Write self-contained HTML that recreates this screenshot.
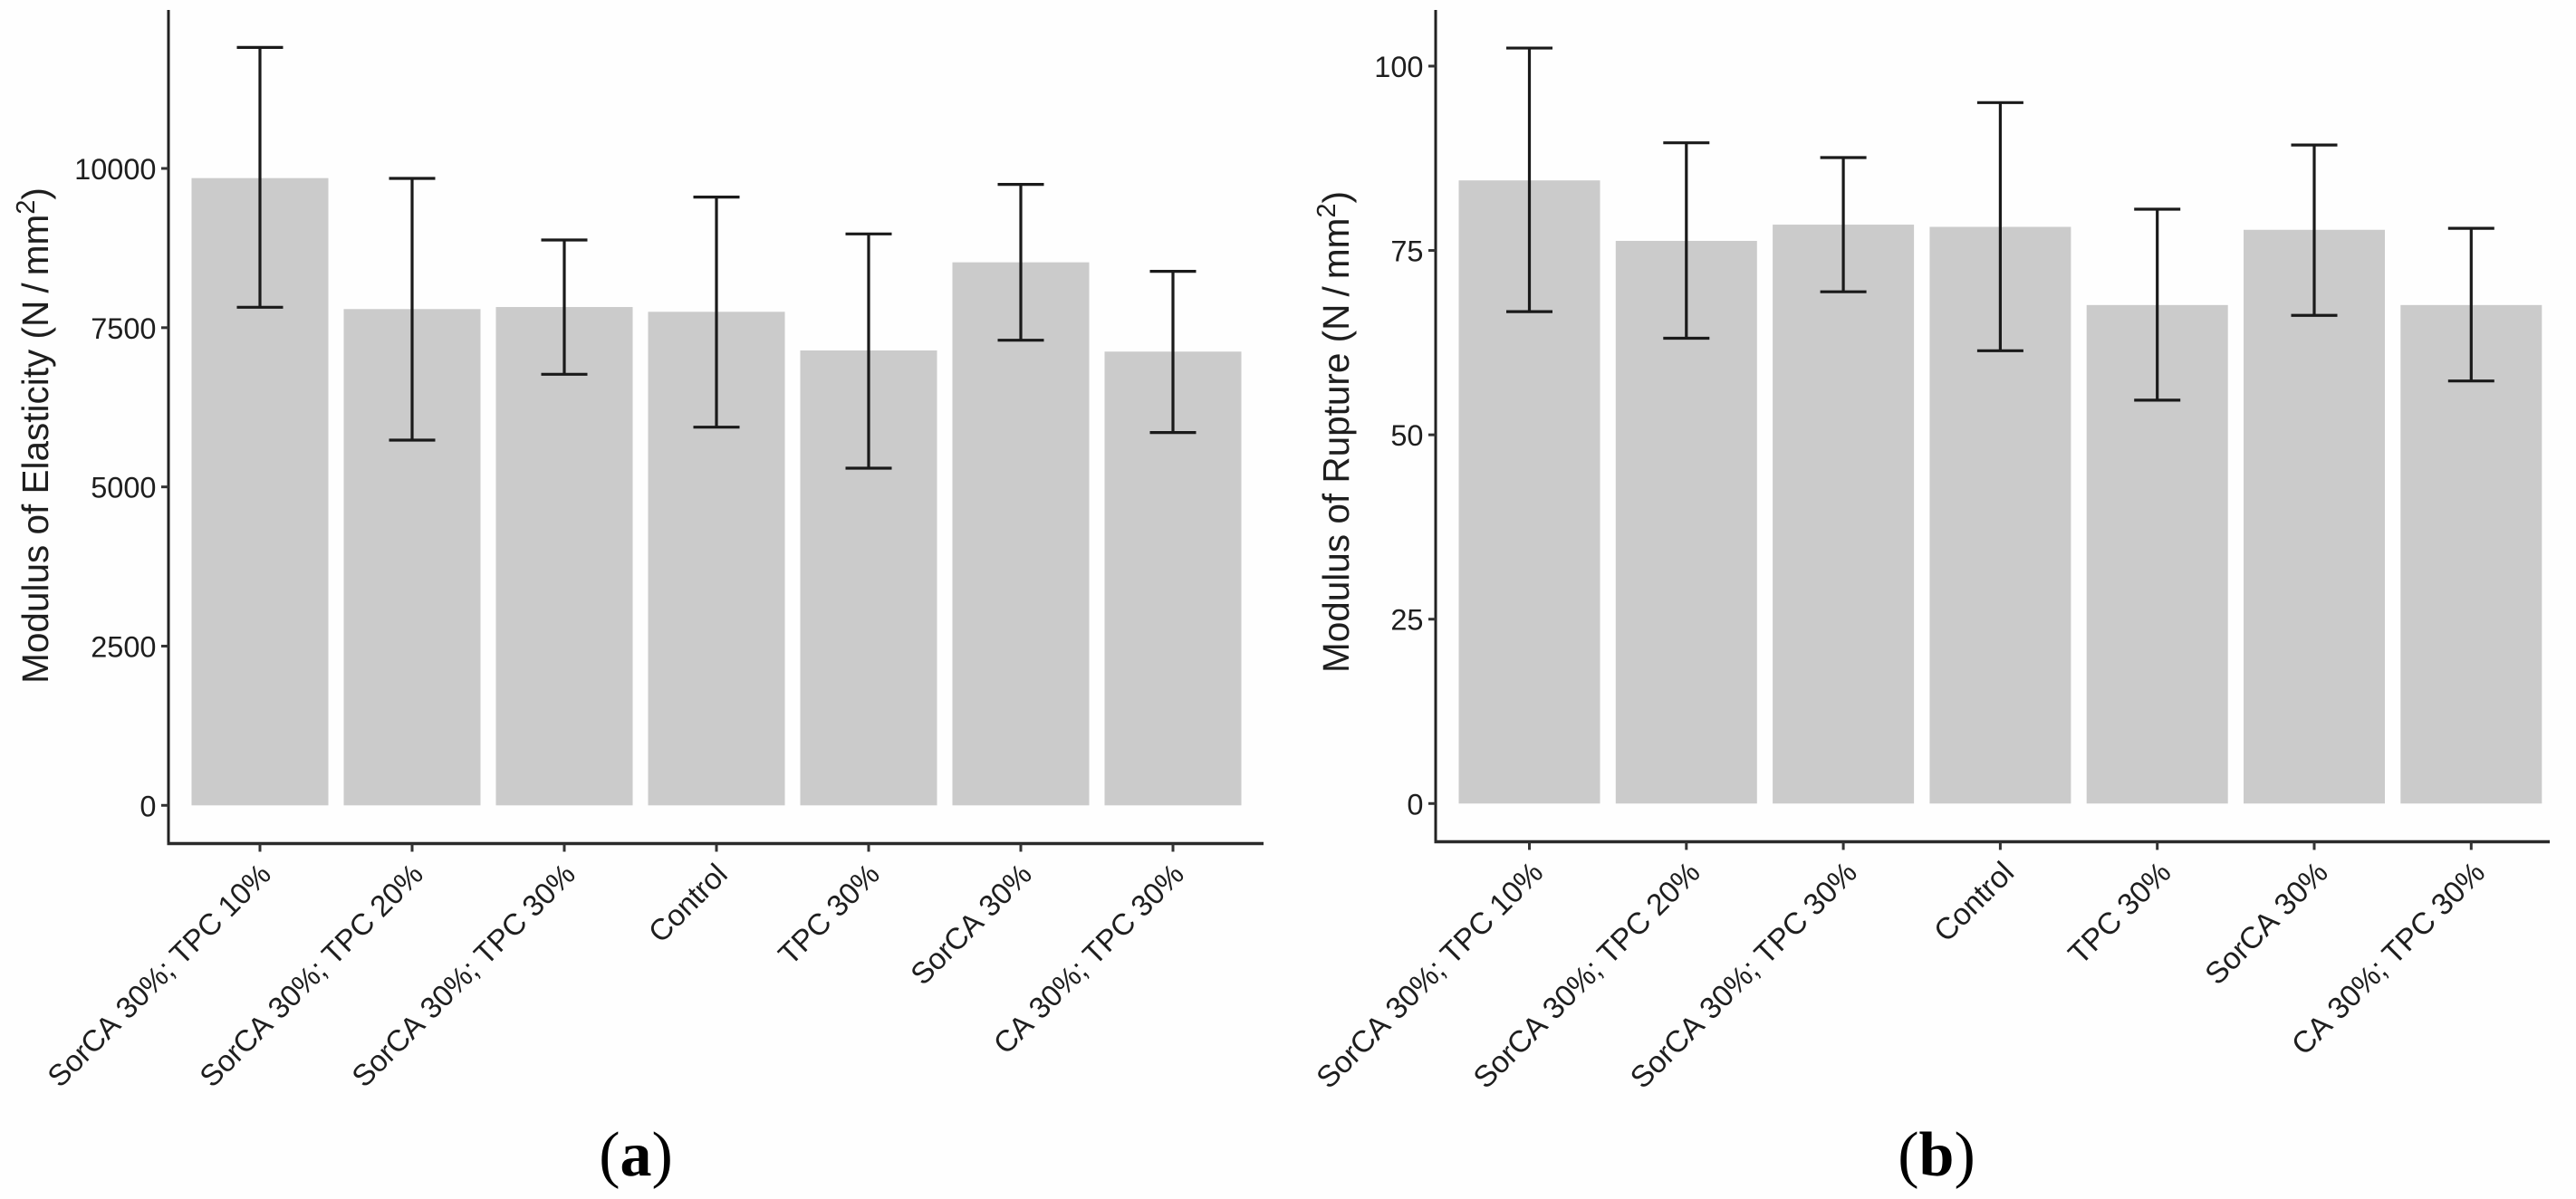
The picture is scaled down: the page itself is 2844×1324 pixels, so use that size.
<!DOCTYPE html>
<html lang="en">
<head>
<meta charset="utf-8">
<title>Modulus of Elasticity and Modulus of Rupture</title>
<style>
  html, body { margin: 0; padding: 0; background: #fefefe; }
  svg { display: block; }
  text { font-family: "Liberation Sans", Arial, sans-serif; fill: #1e1e1e; font-kerning: none; }
  .panel-tag, .panel-tag tspan { font-family: "Liberation Serif", serif; fill: #000; }
</style>
</head>
<body>
<svg id="figure" xmlns="http://www.w3.org/2000/svg" width="2844" height="1324" viewBox="0 0 2844 1324"></svg>
<script>
const categories = ["SorCA 30%; TPC 10%", "SorCA 30%; TPC 20%", "SorCA 30%; TPC 30%", "Control", "TPC 30%", "SorCA 30%", "CA 30%; TPC 30%"];

const elasticityMeans = [9848, 7792, 7824, 7749, 7142, 8526, 7124];
const elasticityUpper = [11900, 9844, 8877, 9550, 8972, 9749, 8384];
const elasticityLower = [7820, 5734, 6768, 5938, 5294, 7303, 5853];
const elasticityTicks = [0, 2500, 5000, 7500, 10000];

const ruptureMeans = [84.5, 76.3, 78.5, 78.2, 67.6, 77.8, 67.6];
const ruptureUpper = [102.45, 89.6, 87.6, 95.05, 80.6, 89.3, 78.0];
const ruptureLower = [66.7, 63.1, 69.4, 61.4, 54.7, 66.2, 57.3];
const ruptureTicks = [0, 25, 50, 75, 100];

const SVG_NS = "http://www.w3.org/2000/svg";
const figure = document.getElementById("figure");

function make(parent, tag, attrs, content) {
  const node = document.createElementNS(SVG_NS, tag);
  for (const key in attrs) node.setAttribute(key, attrs[key]);
  if (content !== undefined) node.textContent = content;
  parent.appendChild(node);
  return node;
}

function drawPanel(p) {
  const xScale = i => p.x0 + p.xStep * i;
  const yScale = v => p.yZero - v * p.yPerUnit;

  const g = make(figure, "g", {});
  
  

  p.means.forEach((m, i) => {
    const bar = make(g, "rect", {
      x: xScale(i) - p.barWidth / 2,
      y: yScale(m),
      width: p.barWidth,
      height: yScale(0) - yScale(m),
      fill: "#cbcbcb"
    });
    
    
  });

  p.means.forEach((m, i) => {
    const cx = xScale(i);
    const yHi = yScale(p.upper[i]);
    const yLo = yScale(p.lower[i]);
    const err = make(g, "path", {
      d: "M" + (cx - 25.5) + " " + yHi + "H" + (cx + 25.5) +
         "M" + cx + " " + yHi + "V" + yLo +
         "M" + (cx - 25.5) + " " + yLo + "H" + (cx + 25.5),
      fill: "none",
      stroke: "#1a1a1a",
      "stroke-width": 3.2
    });
    
    
  });

  const yAxis = make(g, "line", { x1: p.axisX, x2: p.axisX, y1: 11, y2: p.axisY + 1.5, stroke: "#222", "stroke-width": 3 });
  
  

  const xAxis = make(g, "line", { x1: p.axisX - 1.5, x2: p.axisRight, y1: p.axisY, y2: p.axisY, stroke: "#2a2a2a", "stroke-width": 3.5 });
  
  

  p.ticks.forEach(t => {
    const y = yScale(t);
    const tick = make(g, "line", { x1: p.axisX - 8, x2: p.axisX, y1: y, y2: y, stroke: "#333", "stroke-width": 3 });
    
    
    const label = make(g, "text", { x: p.axisX - 13.5, y: y + 12, "text-anchor": "end", "font-size": 32.5 }, String(t));
    
    
  });

  categories.forEach((c, i) => {
    const x = xScale(i);
    const tick = make(g, "line", { x1: x, x2: x, y1: p.axisY, y2: p.axisY + 9, stroke: "#333", "stroke-width": 3 });
    
    
    const lx = x + p.labelDx;
    const ly = p.axisY + 36;
    const label = make(g, "text", {
      x: lx, y: ly, "text-anchor": "end", "font-size": p.labelSize,
      transform: "rotate(-45 " + lx + " " + ly + ")"
    }, c);
    
    
  });

  const title = make(g, "text", {
    x: p.titleX, y: p.titleY, "text-anchor": "middle", "font-size": 40.5,
    transform: "rotate(-90 " + p.titleX + " " + p.titleY + ")"
  });
  
  
  make(title, "tspan", {}, p.title + " (N\u2009/\u2009mm");
  make(title, "tspan", { dy: -15, "font-size": 29 }, "2");
  make(title, "tspan", { dy: 15 }, ")");

  const tag = make(g, "text", { x: p.tagX, y: 1298, "text-anchor": "middle", "font-size": 70, class: "panel-tag" });
  
  
  make(tag, "tspan", {}, "(");
  make(tag, "tspan", { "font-weight": "bold" }, p.tag);
  make(tag, "tspan", {}, ")");
}

drawPanel({
  id: "elasticity", title: "Modulus of Elasticity", tag: "a", tagX: 702,
  means: elasticityMeans, upper: elasticityUpper, lower: elasticityLower, ticks: elasticityTicks,
  x0: 287, xStep: 168, barWidth: 151,
  yZero: 889.3, yPerUnit: 0.07033,
  axisX: 186, axisY: 931.5, axisRight: 1395,
  labelDx: 14, labelSize: 33,
  titleX: 53, titleY: 481
});

drawPanel({
  id: "rupture", title: "Modulus of Rupture", tag: "b", tagX: 2138,
  means: ruptureMeans, upper: ruptureUpper, lower: ruptureLower, ticks: ruptureTicks,
  x0: 1688.5, xStep: 173.3, barWidth: 156,
  yZero: 887.3, yPerUnit: 8.143,
  axisX: 1585, axisY: 929.5, axisRight: 2815,
  labelDx: 17, labelSize: 33.5,
  titleX: 1489, titleY: 477
});
</script>
</body>
</html>
